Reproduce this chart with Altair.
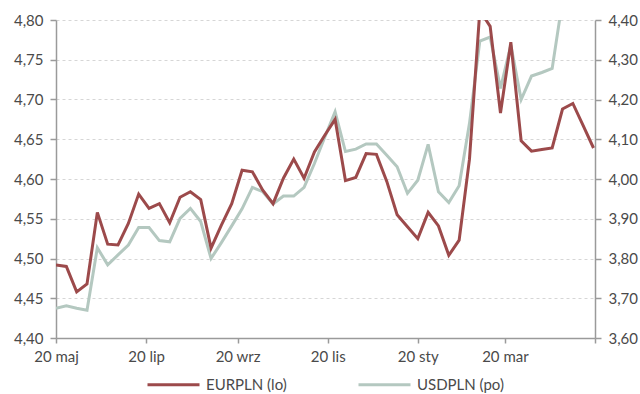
import altair as alt
import pandas as pd

# Weekly closes, first observation on 2021-05-20
first_date = "2021-05-20"

eurpln = [
    4.492, 4.490, 4.458, 4.468, 4.558, 4.518, 4.517, 4.544, 4.581, 4.563,
    4.569, 4.545, 4.577, 4.584, 4.574, 4.513, 4.542, 4.569, 4.611, 4.609,
    4.586, 4.569, 4.601, 4.625, 4.601, 4.634, 4.655, 4.675, 4.598, 4.602,
    4.632, 4.631, 4.597, 4.555, 4.540, 4.525, 4.558, 4.541, 4.504, 4.523,
    4.625, 4.812, 4.792, 4.683, 4.772, 4.648, 4.635, 4.637, 4.639, 4.688,
    4.695, 4.667, 4.639,
]

usdpln = [
    3.675, 3.681, 3.675, 3.670, 3.827, 3.784, 3.809, 3.834, 3.878, 3.878,
    3.845, 3.842, 3.901, 3.926, 3.893, 3.800, 3.840, 3.882, 3.925, 3.979,
    3.968, 3.937, 3.957, 3.957, 3.979, 4.039, 4.105, 4.169, 4.069, 4.075,
    4.088, 4.088, 4.060, 4.031, 3.964, 3.997, 4.087, 3.968, 3.941, 3.983,
    4.140, 4.347, 4.357, 4.228, 4.337, 4.200, 4.259, 4.268, 4.278, 4.449,
    4.430, 4.450, 4.420,
]

series_names = ["EURPLN (lo)", "USDPLN (po)"]
series_colors = ["#9c4a4b", "#b4c8c0"]

month_abbr = ["sty", "lut", "mar", "kwi", "maj", "cze",
              "lip", "sie", "wrz", "paź", "lis", "gru"]
x_tick_dates = [(2021, 5, 20), (2021, 7, 20), (2021, 9, 20), (2021, 11, 20),
                (2022, 1, 20), (2022, 3, 20), (2022, 5, 20)]
x_domain = [(2021, 5, 20), (2022, 5, 20)]
left_ticks = [4.40, 4.45, 4.50, 4.55, 4.60, 4.65, 4.70, 4.75, 4.80]
right_ticks = [3.60, 3.70, 3.80, 3.90, 4.00, 4.10, 4.20, 4.30, 4.40]

dates = pd.date_range(first_date, periods=len(eurpln), freq="7D").strftime("%Y-%m-%d")
eur_df = pd.DataFrame({"date": dates, "value": eurpln, "series": series_names[0]})
usd_df = pd.DataFrame({"date": dates, "value": usdpln, "series": series_names[1]})


def dt(ymd):
    y, m, d = ymd
    return alt.DateTime(year=y, month=m, date=d, utc=True)


months_js = "[" + ",".join(f"'{m}'" for m in month_abbr) + "]"
last = x_tick_dates[-1]
x_label_expr = (
    f"utcyear(datum.value) == {last[0]} && utcmonth(datum.value) == {last[1] - 1} ? '' : "
    f"utcdate(datum.value) + ' ' + {months_js}[utcmonth(datum.value)]"
)
comma_expr = "replace(format(datum.value, '.2f'), '.', ',')"

x_enc = alt.X(
    "date:T",
    scale=alt.Scale(type="utc", domain=[dt(d) for d in x_domain]),
    axis=alt.Axis(values=[dt(d) for d in x_tick_dates], labelExpr=x_label_expr,
                  title=None, grid=False, tickSize=5, labelPadding=6,
                  labelFlush=False, labelOverlap=False),
)

color_enc = alt.Color(
    "series:N",
    scale=alt.Scale(domain=series_names, range=series_colors),
    legend=alt.Legend(
        title=None, orient="none", direction="horizontal",
        legendX=90, legendY=337, padding=0,
        symbolType="stroke", symbolSize=2704, symbolStrokeWidth=3,
        labelFont="Lato", labelFontSize=15, labelColor="#4a4a4a",
        labelOffset=5, columnPadding=65,
    ),
)

eur_line = alt.Chart(eur_df).mark_line(strokeWidth=3, clip=True).encode(
    x=x_enc,
    y=alt.Y("value:Q",
            scale=alt.Scale(domain=[4.40, 4.80], nice=False, zero=False),
            axis=alt.Axis(values=left_ticks, labelExpr=comma_expr, title=None,
                          grid=True, gridDash=[3, 3], gridColor="#d6d6d6",
                          gridWidth=1)),
    color=color_enc,
)

usd_line = alt.Chart(usd_df).mark_line(strokeWidth=3, clip=True).encode(
    x=x_enc,
    y=alt.Y("value:Q",
            scale=alt.Scale(domain=[3.60, 4.40], nice=False, zero=False),
            axis=alt.Axis(orient="right", values=right_ticks, labelExpr=comma_expr,
                          title=None, grid=False)),
    color=color_enc,
)

chart = (
    alt.layer(usd_line, eur_line)
    .resolve_scale(y="independent")
    .properties(
        width=539, height=318,
        autosize=alt.AutoSizeParams(type="none"),
        padding={"left": 56, "top": 20, "right": 45, "bottom": 56},
        background="white",
    )
    .configure_view(stroke="transparent")
    .configure_axis(
        labelFont="Lato", labelFontSize=15, labelColor="#4a4a4a",
        domainColor="#9a9a9a", domainWidth=1.5,
        tickColor="#9a9a9a", tickWidth=1.5, tickSize=6, labelPadding=7,
    )
)

chart.save("out.html", embed_options={"renderer": "svg", "actions": False})
